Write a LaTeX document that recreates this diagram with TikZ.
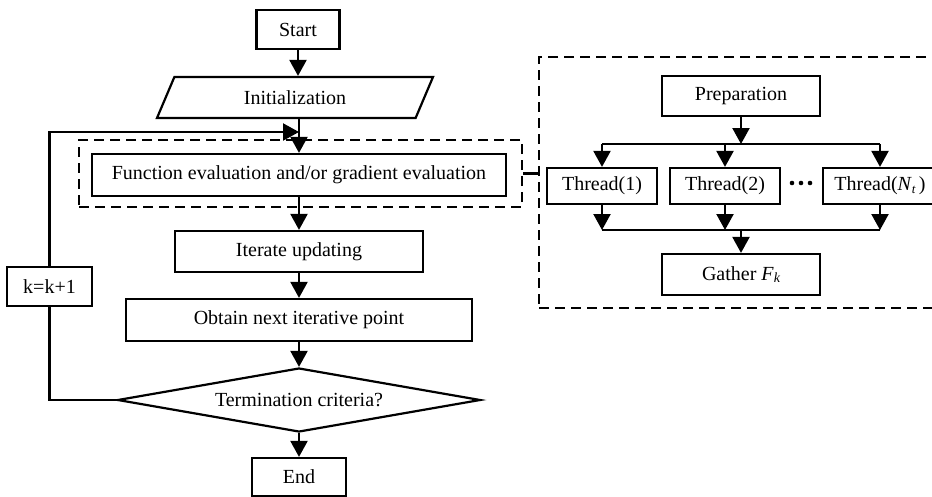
\documentclass[tikz,border=0pt]{standalone}
\usepackage{fontspec}
\setmainfont{Liberation Serif}
\usetikzlibrary{arrows.meta,shapes.geometric}
\begin{document}
\begin{tikzpicture}[x=1pt,y=-1pt,
  every node/.style={font=\fontsize{20}{24}\selectfont, inner sep=0pt},
  box/.style={draw, line width=2.2pt, rectangle},
  grp/.style={draw, line width=2.2pt, dash pattern=on 10pt off 6pt},
  link/.style={line width=2.2pt},
  arr/.style={link, -{Triangle[width=17pt,length=16pt]}},
]
\clip (0,0) rectangle (932,496);

% dashed groups: evaluation step and its parallel expansion
\node[grp, minimum width=443, minimum height=67] (lgrp) at (300.5,173.5) {};
\node[grp, minimum width=404, minimum height=251] (rgrp) at (741,182.5) {};

% main flow
\node[box, minimum width=83, minimum height=39] (start) at (298,29.5) {Start};
\node[trapezium, draw, line width=2.2pt, trapezium left angle=39, trapezium right angle=141,
      trapezium stretches body, minimum width=276, minimum height=41] (init) at (295,97.5) {Initialization};
\node[box, minimum width=414, minimum height=42] (fun) at (299,175) {Function evaluation and/or gradient evaluation};
\node[box, minimum width=248, minimum height=41] (iter) at (299,251.5) {Iterate updating};
\node[box, minimum width=346, minimum height=42] (obt) at (299,320) {Obtain next iterative point};
\node[diamond, draw, line width=2.2pt, aspect=5.67, minimum width=363, minimum height=64] (dec) at (299,400) {Termination criteria?};
\node[box, minimum width=94, minimum height=38] (end) at (299,477) {End};
\node[box, minimum width=85, minimum height=39] (kbox) at (49.5,286.5) {k=k+1};

\coordinate (join) at (299,132);

\draw[arr] (start) -- (start |- init.north);
\draw[arr] (init.south -| fun.north) -- (fun.north);
\draw[arr] (fun) -- (iter);
\draw[arr] (iter) -- (obt);
\draw[arr] (obt) -- (dec);
\draw[arr] (dec) -- (end);
\draw[link] (dec.west) -| (kbox.south);
\draw[arr] (kbox.north) |- (join);

% parallel evaluation
\node[box, minimum width=158, minimum height=40] (prep) at (741,96) {Preparation};
\node[box, minimum width=110, minimum height=36] (t1) at (602,186) {Thread(1)};
\node[box, minimum width=110, minimum height=36] (t2) at (725,186) {Thread(2)};
\node[box, minimum width=114, minimum height=36] (tn) at (880,186)
  {Thread(\textit{N}\raisebox{-0.3ex}{\fontsize{13}{13}\selectfont\itshape t}\,)};
\node[box, minimum width=158, minimum height=41] (gather) at (741,274.5)
  {Gather \textit{F}\raisebox{-0.25ex}{\fontsize{14}{14}\selectfont\itshape k}};

\coordinate (split) at (741,144);
\coordinate (merge) at (741,230);

\draw[arr] (prep) -- (split);
\draw[link] (split -| t1) -- (split -| tn);
\foreach \t in {t1,t2,tn} {
  \draw[arr] (split -| \t) -- (\t.north);
  \draw[arr] (\t.south) -- (merge -| \t);
}
\draw[link] (merge -| t1) -- (merge -| tn);
\draw[arr] (merge) -- (gather);

% ellipsis between the threads
\foreach \dx in {792,801,810} \fill (\dx,183) circle (2.3);

\draw[link] (lgrp.east) -- (lgrp.east -| rgrp.west);
\end{tikzpicture}
\end{document}
